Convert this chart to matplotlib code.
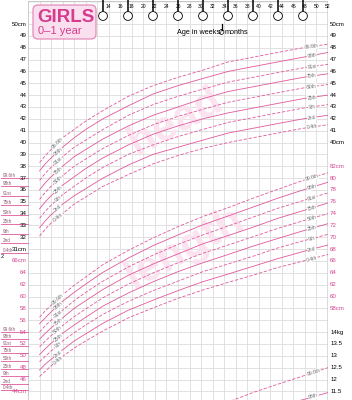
import numpy as np
import matplotlib
matplotlib.use("Agg")
import matplotlib.pyplot as plt
import matplotlib.transforms as mtransforms
from matplotlib.patches import FancyBboxPatch, Circle

weeks = [2, 3, 4, 6, 8, 10, 13, 17.4, 21.7, 26, 30.3, 34.7, 39, 43.3, 47.7, 52]
centiles = ['99.6th', '98th', '91st', '75th', '50th', '25th', '9th', '2nd', '0.4th']

# head circumference (cm)
head_996 = [38.3, 38.9, 39.4, 40.4, 41.1, 41.8, 42.7, 43.9, 44.8, 45.5, 46.1, 46.8, 47.2, 47.6, 48.0, 48.3]
head_98 = [37.6, 38.2, 38.7, 39.6, 40.4, 41.1, 42.0, 43.1, 44.1, 44.8, 45.4, 46.0, 46.4, 46.8, 47.2, 47.6]
head_91 = [36.8, 37.4, 37.9, 38.8, 39.6, 40.2, 41.1, 42.3, 43.2, 43.9, 44.5, 45.1, 45.5, 45.9, 46.3, 46.6]
head_75 = [36.0, 36.6, 37.1, 38.0, 38.8, 39.4, 40.3, 41.4, 42.3, 43.0, 43.7, 44.3, 44.7, 45.1, 45.5, 45.8]
head_50 = [35.2, 35.8, 36.3, 37.2, 38.0, 38.6, 39.5, 40.6, 41.5, 42.2, 42.8, 43.4, 43.8, 44.2, 44.6, 44.9]
head_25 = [34.4, 35.0, 35.5, 36.4, 37.1, 37.8, 38.7, 39.8, 40.7, 41.4, 42.0, 42.5, 42.9, 43.3, 43.7, 44.0]
head_9 = [33.6, 34.2, 34.7, 35.6, 36.3, 37.0, 37.9, 39.0, 39.8, 40.5, 41.1, 41.7, 42.1, 42.5, 42.9, 43.2]
head_2 = [32.8, 33.4, 33.9, 34.8, 35.5, 36.1, 37.0, 38.1, 39.0, 39.6, 40.2, 40.8, 41.2, 41.6, 42.0, 42.3]
head_04 = [32.1, 32.7, 33.2, 34.0, 34.8, 35.4, 36.3, 37.3, 38.2, 38.9, 39.5, 40.0, 40.4, 40.8, 41.2, 41.5]

# length (cm)
len_996 = [56.5, 57.6, 58.5, 60.3, 61.9, 63.3, 65.4, 67.8, 69.9, 71.8, 73.5, 75.0, 76.6, 78.1, 79.6, 80.9]
len_98 = [55.4, 56.4, 57.4, 59.2, 60.7, 62.1, 64.1, 66.5, 68.6, 70.4, 72.1, 73.6, 75.1, 76.6, 78.0, 79.3]
len_91 = [54.0, 55.1, 56.0, 57.7, 59.3, 60.7, 62.6, 65.0, 67.0, 68.8, 70.4, 71.9, 73.4, 74.9, 76.2, 77.5]
len_75 = [52.8, 53.8, 54.7, 56.4, 58.0, 59.3, 61.2, 63.6, 65.5, 67.2, 68.9, 70.3, 71.7, 73.2, 74.5, 75.8]
len_50 = [51.5, 52.5, 53.4, 55.1, 56.6, 57.9, 59.8, 62.1, 64.0, 65.7, 67.3, 68.7, 70.1, 71.5, 72.8, 74.0]
len_25 = [50.2, 51.2, 52.1, 53.8, 55.2, 56.5, 58.4, 60.6, 62.5, 64.2, 65.7, 67.1, 68.5, 69.8, 71.1, 72.3]
len_9 = [49.0, 49.9, 50.8, 52.5, 53.9, 55.2, 57.0, 59.2, 61.0, 62.6, 64.2, 65.5, 66.8, 68.2, 69.4, 70.5]
len_2 = [47.6, 48.6, 49.4, 51.0, 52.5, 53.7, 55.5, 57.7, 59.4, 61.0, 62.5, 63.8, 65.1, 66.4, 67.6, 68.7]
len_04 = [46.5, 47.4, 48.3, 49.9, 51.3, 52.5, 54.2, 56.4, 58.1, 59.7, 61.1, 62.4, 63.6, 64.9, 66.0, 67.1]

# weight (kg) - only the top of the weight section is on this page
wt_weeks = [26, 30.3, 34.7, 39, 43.3, 47.7, 52]
wt_996 = [10.3, 10.7, 11.05, 11.45, 11.8, 12.15, 12.5]
wt_98 = [9.9, 10.2, 10.5, 10.7, 10.9, 11.15, 11.45]

# values at birth, marked in the left margin
head_birth = [37.0, 36.3, 35.5, 34.7, 33.9, 33.1, 32.3, 31.5, 30.7]
len_birth = [54.0, 52.9, 51.6, 50.4, 49.1, 47.8, 46.6, 45.3, 44.2]

week_ticks = list(range(14, 53, 2))
month_ticks = list(range(3, 12))
head_left = list(range(31, 51))
head_right = list(range(40, 51))
len_left = list(range(44, 67, 2))
len_right = list(range(58, 83, 2))
wt_right = [11.5, 12, 12.5, 13, 13.5, 14]

head_curves = [head_996, head_98, head_91, head_75, head_50, head_25, head_9, head_2, head_04]
len_curves = [len_996, len_98, len_91, len_75, len_50, len_25, len_9, len_2, len_04]

PINK = '#e2579c'
LABPINK = '#d6458f'
GRID = '#dcdcdc'
WATER = '#fbe3ef'
FONT = 'Liberation Sans'
dashed = [True, False, True, False, True, False, True, False, True]

W, H = 352, 400
fig = plt.figure(figsize=(W / 100, H / 100), dpi=100)
top_px = 1
ax = fig.add_axes([28 / W, 0, 300 / W, (H - top_px) / H])

# head scale: 50cm at y=24px, 11.85px per cm
head_lim = (50 - (H - 24) / 11.85, 50 + (24 - top_px) / 11.85)
ax.set_xlim(0, 52)
ax.set_ylim(*head_lim)
# length and weight share the same grid: L = 2h + 6, W = h/2 + 2
axl = ax.twinx()
axl.set_ylim(2 * head_lim[0] + 6, 2 * head_lim[1] + 6)
axw = ax.twinx()
axw.set_ylim(head_lim[0] / 2 + 2, head_lim[1] / 2 + 2)
for a in (ax, axl, axw):
    a.set_yticks([])
    a.set_xticks([])
    for s in a.spines.values():
        s.set_visible(False)

# grid
for wk in range(0, 53, 2):
    ax.axvline(wk, color=GRID, lw=0.6, zorder=0)
for h in range(19, 52):
    ax.axhline(h, color=GRID, lw=0.6, zorder=0)
ax.axvline(0, color='#c8c8c8', lw=1.2, zorder=1)
ax.axvline(52, color='#d0d0d0', lw=1.8, zorder=1)
ax.axhline(head_lim[1], color='#c8c8c8', lw=1.0, zorder=1)


def draw_curves(a, xs, curves, names, start_wk=5.2, end_wk=49.2, start=True):
    for vals, name, dsh in zip(curves, names, dashed):
        ln, = a.plot(xs, vals, color=PINK, lw=0.6, zorder=3, clip_on=True)
        if dsh:
            ln.set_dashes([4, 2])
        for wk in ([start_wk] if start else []) + [end_wk]:
            y = np.interp(wk, xs, vals)
            p0 = a.transData.transform((wk - 0.5, np.interp(wk - 0.5, xs, vals)))
            p1 = a.transData.transform((wk + 0.5, np.interp(wk + 0.5, xs, vals)))
            ang = np.degrees(np.arctan2(p1[1] - p0[1], p1[0] - p0[0]))
            a.text(wk, y, name, fontsize=3.6, color='#707070', family=FONT,
                   rotation=ang, rotation_mode='anchor', ha='center', va='center',
                   zorder=4, bbox=dict(fc='white', ec='none', pad=0.2))


# watermark words
ax.text(25.6, 41.7, 'head', fontsize=31, fontweight='bold', color=WATER,
        family=FONT, rotation=29, ha='center', va='center', zorder=2)
axl.text(27.2, 68.2, 'length', fontsize=31, fontweight='bold', color=WATER,
         family=FONT, rotation=29, ha='center', va='center', zorder=2)

draw_curves(ax, weeks, head_curves, centiles)
draw_curves(axl, weeks, len_curves, centiles)
draw_curves(axw, wt_weeks, [wt_996, wt_98], centiles[:2], start=False, end_wk=49.5)

# birth markers in the left margin
for a, vals in ((ax, head_birth), (axl, len_birth)):
    for v, name in zip(vals, centiles):
        a.plot([-4.7, 0], [v, v], color=PINK, lw=0.6, clip_on=False, zorder=3)
        a.text(-4.4, v, name, fontsize=3.3, color='#8a5a74', family=FONT,
               ha='left', va='bottom', clip_on=False)
fig.text(1 / W, 1 - 256 / H, '2', fontsize=4, family=FONT, va='center')

# axis labels on both sides
lt = mtransforms.blended_transform_factory(ax.transAxes, ax.transData)
for h in head_left:
    s = f'{h}cm' if h in (31, 50) else str(h)
    ax.text(-0.004, h, s, transform=lt, fontsize=4.4, family=FONT, ha='right', va='center')
for h in head_right:
    s = f'{h}cm' if h in (40, 50) else str(h)
    ax.text(1.007, h, s, transform=lt, fontsize=4.4, family=FONT, ha='left', va='center')
ltl = mtransforms.blended_transform_factory(axl.transAxes, axl.transData)
for v in len_left:
    s = f'{v}cm' if v in (44, 66) else str(v)
    axl.text(-0.004, v, s, transform=ltl, fontsize=4.4, family=FONT, color=LABPINK,
             ha='right', va='center')
for v in len_right:
    s = f'{v}cm' if v in (58, 82) else str(v)
    axl.text(1.007, v, s, transform=ltl, fontsize=4.4, family=FONT, color=LABPINK,
             ha='left', va='center')
ltw = mtransforms.blended_transform_factory(axw.transAxes, axw.transData)
for v in wt_right:
    s = '14kg' if v == 14 else f'{v:g}'
    axw.text(1.007, v, s, transform=ltw, fontsize=4.4, family=FONT, ha='left', va='center')

# week numbers and month circles along the top
tt = mtransforms.blended_transform_factory(ax.transData, fig.transFigure)
for wk in week_ticks:
    ax.text(wk, 1 - 6 / H, str(wk), transform=tt, fontsize=3.6, family=FONT,
            ha='center', va='center', zorder=6)
for m in month_ticks:
    wk = m * 52 / 12
    ax.plot([wk, wk], [1, 1 - 11 / H], transform=tt, color='black', lw=1.1,
            clip_on=False, zorder=6)
    xp = ax.transData.transform((wk, 0))[0]
    fig.patches.append(Circle((xp, H - 16), 4.4, transform=mtransforms.IdentityTransform(),
                              fc='white', ec='black', lw=0.6, zorder=7))
    ax.text(wk, 1 - 16.3 / H, str(m), transform=tt, fontsize=4.4, family=FONT,
            ha='center', va='center', zorder=8)

# "Age in weeks/ months" key
fig.text(177 / W, 1 - 32 / H, 'Age in weeks/', fontsize=5.2, family=FONT, va='center')
fig.patches.append(Circle((221.5, H - 32), 2.4, transform=mtransforms.IdentityTransform(),
                          fc='white', ec='black', lw=0.5))
fig.lines.append(plt.Line2D([221.5, 221.5], [H - 24, H - 29.6],
                            transform=mtransforms.IdentityTransform(), color='black', lw=0.9))
fig.text(224.5 / W, 1 - 32 / H, 'months', fontsize=5.2, family=FONT, va='center')

# GIRLS title box
fig.patches.append(FancyBboxPatch((33, H - 39), 63, 34, boxstyle='round,pad=0,rounding_size=5',
                                  transform=mtransforms.IdentityTransform(),
                                  fc='#fae0ee', ec='#e58cbb', lw=0.9, zorder=9))
fig.text(37 / W, 1 - 22.5 / H, 'GIRLS', fontsize=13.5, fontweight='bold', color='#d63b8e',
         family=FONT, va='baseline', zorder=10)
fig.text(37.5 / W, 1 - 34.5 / H, '0\u20131 year', fontsize=8.0, color='#d63b8e',
         family=FONT, va='baseline', zorder=10)

fig.savefig('out.png', dpi=100)
